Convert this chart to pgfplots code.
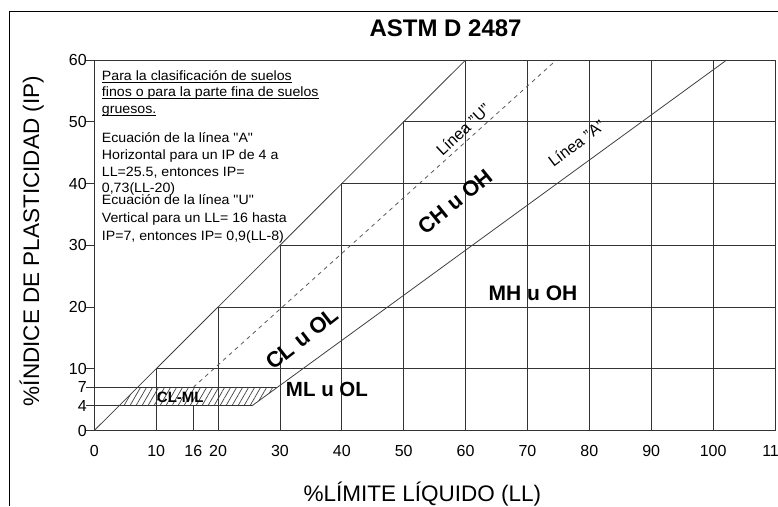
\documentclass[border=0pt]{standalone}
\usepackage{fontspec}
\setmainfont{Liberation Sans}
\usepackage{pgfplots}
\pgfplotsset{compat=1.18}
\usetikzlibrary{patterns.meta}
\newfontfamily\blockfont[FakeStretch=1.05]{Liberation Sans}
\newcommand\ul[1]{\setbox0\hbox{#1}\rlap{\rule[-2.6pt]{\wd0}{0.8pt}}\box0}

\begin{document}
\begin{tikzpicture}[x=1pt,y=1pt]
\path[use as bounding box] (0,0) rectangle (778,506);
\draw[line width=1.4pt] (9.3,0) -- (9.3,494.3) -- (778,494.3);
\begin{axis}[
  at={(94.3pt,75.5pt)}, anchor=south west,
  scale only axis, width=680.7pt, height=370.5pt,
  xmin=0, xmax=110, ymin=0, ymax=60,
  xtick={0,10,16,20,30,40,50,60,70,80,90,100,110},
  ytick={0,4,7,10,20,30,40,50,60},
  tick align=outside, xtick pos=bottom, ytick pos=left,
  major tick length=8pt,
  xtick style={draw=none},
  ytick style={line width=0.8pt, black!80},
  axis line style={line width=0.9pt, black!80},
  tick label style={font=\fontsize{16}{18}\selectfont},
  /pgf/number format/assume math mode=true,
  xticklabel style={yshift=-3pt},
  yticklabel style={xshift=4pt},
  xlabel={\%LÍMITE LÍQUIDO (LL)},
  ylabel={\%ÍNDICE DE PLASTICIDAD (IP)},
  xlabel style={at={(axis description cs:0.482,-0.171)}, anchor=center, font=\fontsize{22.5}{26}\selectfont},
  ylabel style={at={(axis description cs:-0.092,0.511)}, anchor=center, font=\fontsize{22.5}{26}\selectfont},
  title={ASTM D 2487},
  every axis title shift=0pt,
  title style={at={(axis description cs:0.516,1.063)}, anchor=base, yshift=0pt, font=\bfseries\fontsize{24}{28}\selectfont},
  clip=false,
  gl/.style={black!80, line width=0.85pt, forget plot},
  dl/.style={black!75, line width=0.8pt, forget plot},
]
% hatched CL-ML zone
\addplot[draw=none, forget plot, pattern={Lines[angle=60,distance=5.2pt,line width=0.7pt]}, pattern color=black!75]
  coordinates {(4,4) (25.48,4) (29.59,7) (7,7) (4,4)};
% stepped grid
\addplot[gl] coordinates {(10,0) (10,10) (110,10)};
\addplot[gl] coordinates {(20,0) (20,20) (110,20)};
\addplot[gl] coordinates {(30,0) (30,30) (110,30)};
\addplot[gl] coordinates {(40,0) (40,40) (110,40)};
\addplot[gl] coordinates {(50,0) (50,50) (110,50)};
\addplot[gl] coordinates {(60,0) (60,60)};
\addplot[gl] coordinates {(70,0) (70,60)};
\addplot[gl] coordinates {(80,0) (80,60)};
\addplot[gl] coordinates {(90,0) (90,60)};
\addplot[gl] coordinates {(100,0) (100,60)};
\addplot[gl] coordinates {(16,0) (16,4)};
\addplot[gl] coordinates {(0,4) (25.48,4)};
\addplot[gl] coordinates {(0,7) (29.59,7)};
% limit lines
\addplot[dl] coordinates {(0,0) (60,60)};
\addplot[dl] coordinates {(25.48,4) (102.19,60)};
\addplot[dl, black!65, dash pattern=on 4pt off 4pt] coordinates {(16,7) (74.67,60)};

\node[font=\bfseries\fontsize{21}{24}\selectfont] at (axis cs:70.9,22.2) {MH u OH};
\node[font=\bfseries\fontsize{22}{24}\selectfont, rotate=38] at (axis cs:33.6,14.9) {CL u OL};
\node[font=\bfseries\fontsize{21.5}{24}\selectfont, rotate=39] at (axis cs:58.3,37.05) {CH u OH};
\node[font=\bfseries\fontsize{20.5}{24}\selectfont] at (axis cs:37.6,6.6) {ML u OL};
\node[font=\bfseries\fontsize{15}{18}\selectfont] at (axis cs:13.9,5.3) {CL-ML};
\node[font=\fontsize{16}{18}\selectfont, rotate=43] at (axis cs:59.6,48.7) {Línea "U"};
\node[font=\fontsize{16}{18}\selectfont, rotate=37] at (axis cs:77.9,46.5) {Línea "A"};

\begin{scope}[every node/.style={anchor=base west, inner sep=0pt, font=\blockfont\fontsize{13.5}{16}\selectfont}]
\node at (axis cs:1.2,56.65) {\ul{Para la clasificación de suelos}};
\node at (axis cs:1.2,54.06) {\ul{finos o para la parte fina de suelos}};
\node at (axis cs:1.2,51.37) {\ul{gruesos.}};
\node at (axis cs:1.2,46.61) {Ecuación de la línea "A"};
\node at (axis cs:1.2,43.92) {Horizontal para un IP de 4 a};
\node at (axis cs:1.2,41.10) {LL=25.5, entonces IP=};
\node at (axis cs:1.2,38.51) {0,73(LL-20)};
\node at (axis cs:1.2,36.63) {Ecuación de la línea "U"};
\node at (axis cs:1.2,33.65) {Vertical para un LL= 16 hasta};
\node at (axis cs:1.2,30.85) {IP=7, entonces IP= 0,9(LL-8)};
\end{scope}
\end{axis}
\end{tikzpicture}
\end{document}
